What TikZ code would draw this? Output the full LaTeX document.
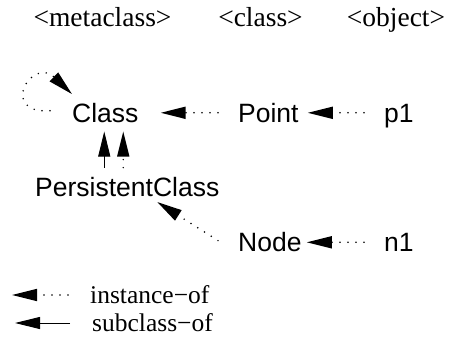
\documentclass[tikz,border=0pt]{standalone}
\usepackage{fontspec}
\setmainfont{Liberation Serif}
\newfontfamily\sansfam{Liberation Sans}
\usetikzlibrary{arrows.meta}
\begin{document}
\begin{tikzpicture}[x=1pt,y=-1pt,
  lbl/.style={font=\sansfam\fontsize{26.5}{30}\selectfont, inner sep=0pt, text height=19pt, text depth=0pt, anchor=south west},
  head/.style={font=\fontsize{27.5}{30}\selectfont, inner sep=0pt, anchor=base},
  leg/.style={font=\fontsize{25.5}{30}\selectfont, inner sep=0pt, anchor=base west},
  tipT/.style={-{Triangle[length=25pt,width=12pt]}},
  inst/.style={tipT, line width=1.7pt, line cap=round, dash pattern=on 0pt off 8pt},
  sub/.style={tipT, line width=0.9pt}]
\useasboundingbox (0,0) rectangle (449,343);
% headers
\node[head] (hmeta) at (102.5,26) {<metaclass>};
\node[head] (hclass) at (260.5,26) {<class>};
\node[head] (hobj) at (396,26) {<object>};
% nodes
\node[lbl] (Class) at (72,122.5) {Class};
\node[lbl] (Point) at (238,122.5) {Point};
\node[lbl] (p1) at (384,122.5) {p1};
\node[lbl] (PC) at (35,197) {PersistentClass};
\node[lbl] (Node) at (238,252) {Node};
\node[lbl] (n1) at (384,252) {n1};
% arrows
\draw[inst, shorten <=20pt, shorten >=22pt] (Point.west) -- (Class.east);
\draw[inst, shorten <=20pt, shorten >=9pt] (p1.west) -- (Point.east);
\draw[inst, shorten <=20pt, shorten >=5pt] (n1.west) -- (Node.east);
\draw[inst] ([xshift=-22pt,yshift=2pt]Class.west) .. controls +(-52,3) and +(-40,-38) .. ([yshift=9pt]Class.north west);
\draw[sub, shorten <=10pt, shorten >=9pt] ([xshift=-23pt]PC.north) -- ([xshift=-23pt]PC.north |- Class.south);
\draw[inst, shorten <=10pt, shorten >=9pt] ([xshift=-4pt]PC.north) -- ([xshift=-4pt]PC.north |- Class.south);
\draw[inst] ([xshift=-20pt,yshift=-8pt]Node.north west) -- ([xshift=30pt,yshift=-5pt]PC.south);
% legend
\node[leg] (linst) at (90,303) {instance−of};
\node[leg] (lsub) at (92,331.5) {subclass−of};
\draw[inst] ([xshift=-22pt,yshift=8pt]linst.base west) -- ([xshift=-78pt,yshift=8pt]linst.base west);
\draw[sub] ([xshift=-22pt,yshift=8.5pt]lsub.base west) -- ([xshift=-77pt,yshift=8.5pt]lsub.base west);
\end{tikzpicture}
\end{document}
